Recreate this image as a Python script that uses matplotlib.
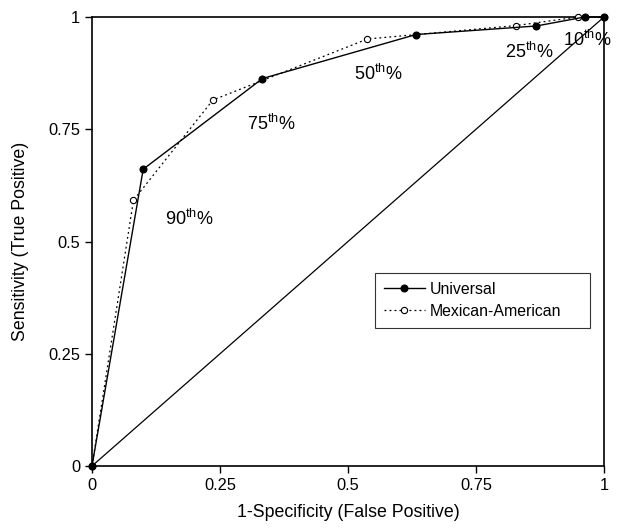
import matplotlib
matplotlib.use("Agg")
import matplotlib.pyplot as plt

plt.rcParams['font.family'] = ['Liberation Sans', 'DejaVu Sans']

univ_x = [0, 0.10, 0.333, 0.633, 0.868, 0.962, 1.0]
univ_y = [0, 0.661, 0.863, 0.961, 0.98, 1.0, 1.0]
mex_x = [0, 0.081, 0.236, 0.538, 0.829, 0.949, 1.0]
mex_y = [0, 0.592, 0.815, 0.951, 0.981, 1.0, 1.0]
ticks = [0, 0.25, 0.5, 0.75, 1]
tick_labels = ["0", "0.25", "0.5", "0.75", "1"]
annots = [("90", 0.19, 0.55), ("75", 0.35, 0.762), ("50", 0.56, 0.873), ("25", 0.855, 0.922), ("10", 0.967, 0.948)]

fig = plt.figure(figsize=(6.18, 5.31), dpi=100)
ax = fig.add_axes([92/618, 1-466/531, 512/618, 449/531])

ax.plot([0, 1], [0, 1], color='black', lw=0.9)
ax.plot(mex_x, mex_y, color='black', lw=0.9, linestyle=(0, (1.5, 2.5)), marker='o',
        markersize=4.5, markerfacecolor='white', markeredgecolor='black', markeredgewidth=0.8,
        label='Mexican-American', clip_on=False, zorder=3)
ax.plot(univ_x, univ_y, color='black', lw=1.0, marker='o', markersize=4.8,
        markerfacecolor='black', label='Universal', clip_on=False, zorder=4)

for lab, x, y in annots:
    ax.text(x, y, lab + r"$^{\mathregular{th}}$%", fontsize=13, ha='center', va='center')

ax.set_xlim(0, 1)
ax.set_ylim(0, 1)
ax.set_xticks(ticks)
ax.set_xticklabels(tick_labels)
ax.set_yticks(ticks)
ax.set_yticklabels(tick_labels)
ax.tick_params(labelsize=11.8, direction='out', length=5, width=1)
for s in ax.spines.values():
    s.set_linewidth(1.2)
ax.set_xlabel("1-Specificity (False Positive)", fontsize=12.8, labelpad=8)
ax.set_ylabel("Sensitivity (True Positive)", fontsize=12.8, labelpad=14)

handles, labels = ax.get_legend_handles_labels()
leg = ax.legend(handles[::-1], labels[::-1], loc='upper left',
                bbox_to_anchor=(0.5527, 0.3117, 0.42, 0.118), mode='expand',
                fontsize=11.4, frameon=True, fancybox=False, edgecolor='black',
                handlelength=2.6, borderpad=0.55, labelspacing=0.45, handletextpad=0.3,
                borderaxespad=0)
leg.get_frame().set_linewidth(0.8)

fig.savefig("out.png", dpi=100)
